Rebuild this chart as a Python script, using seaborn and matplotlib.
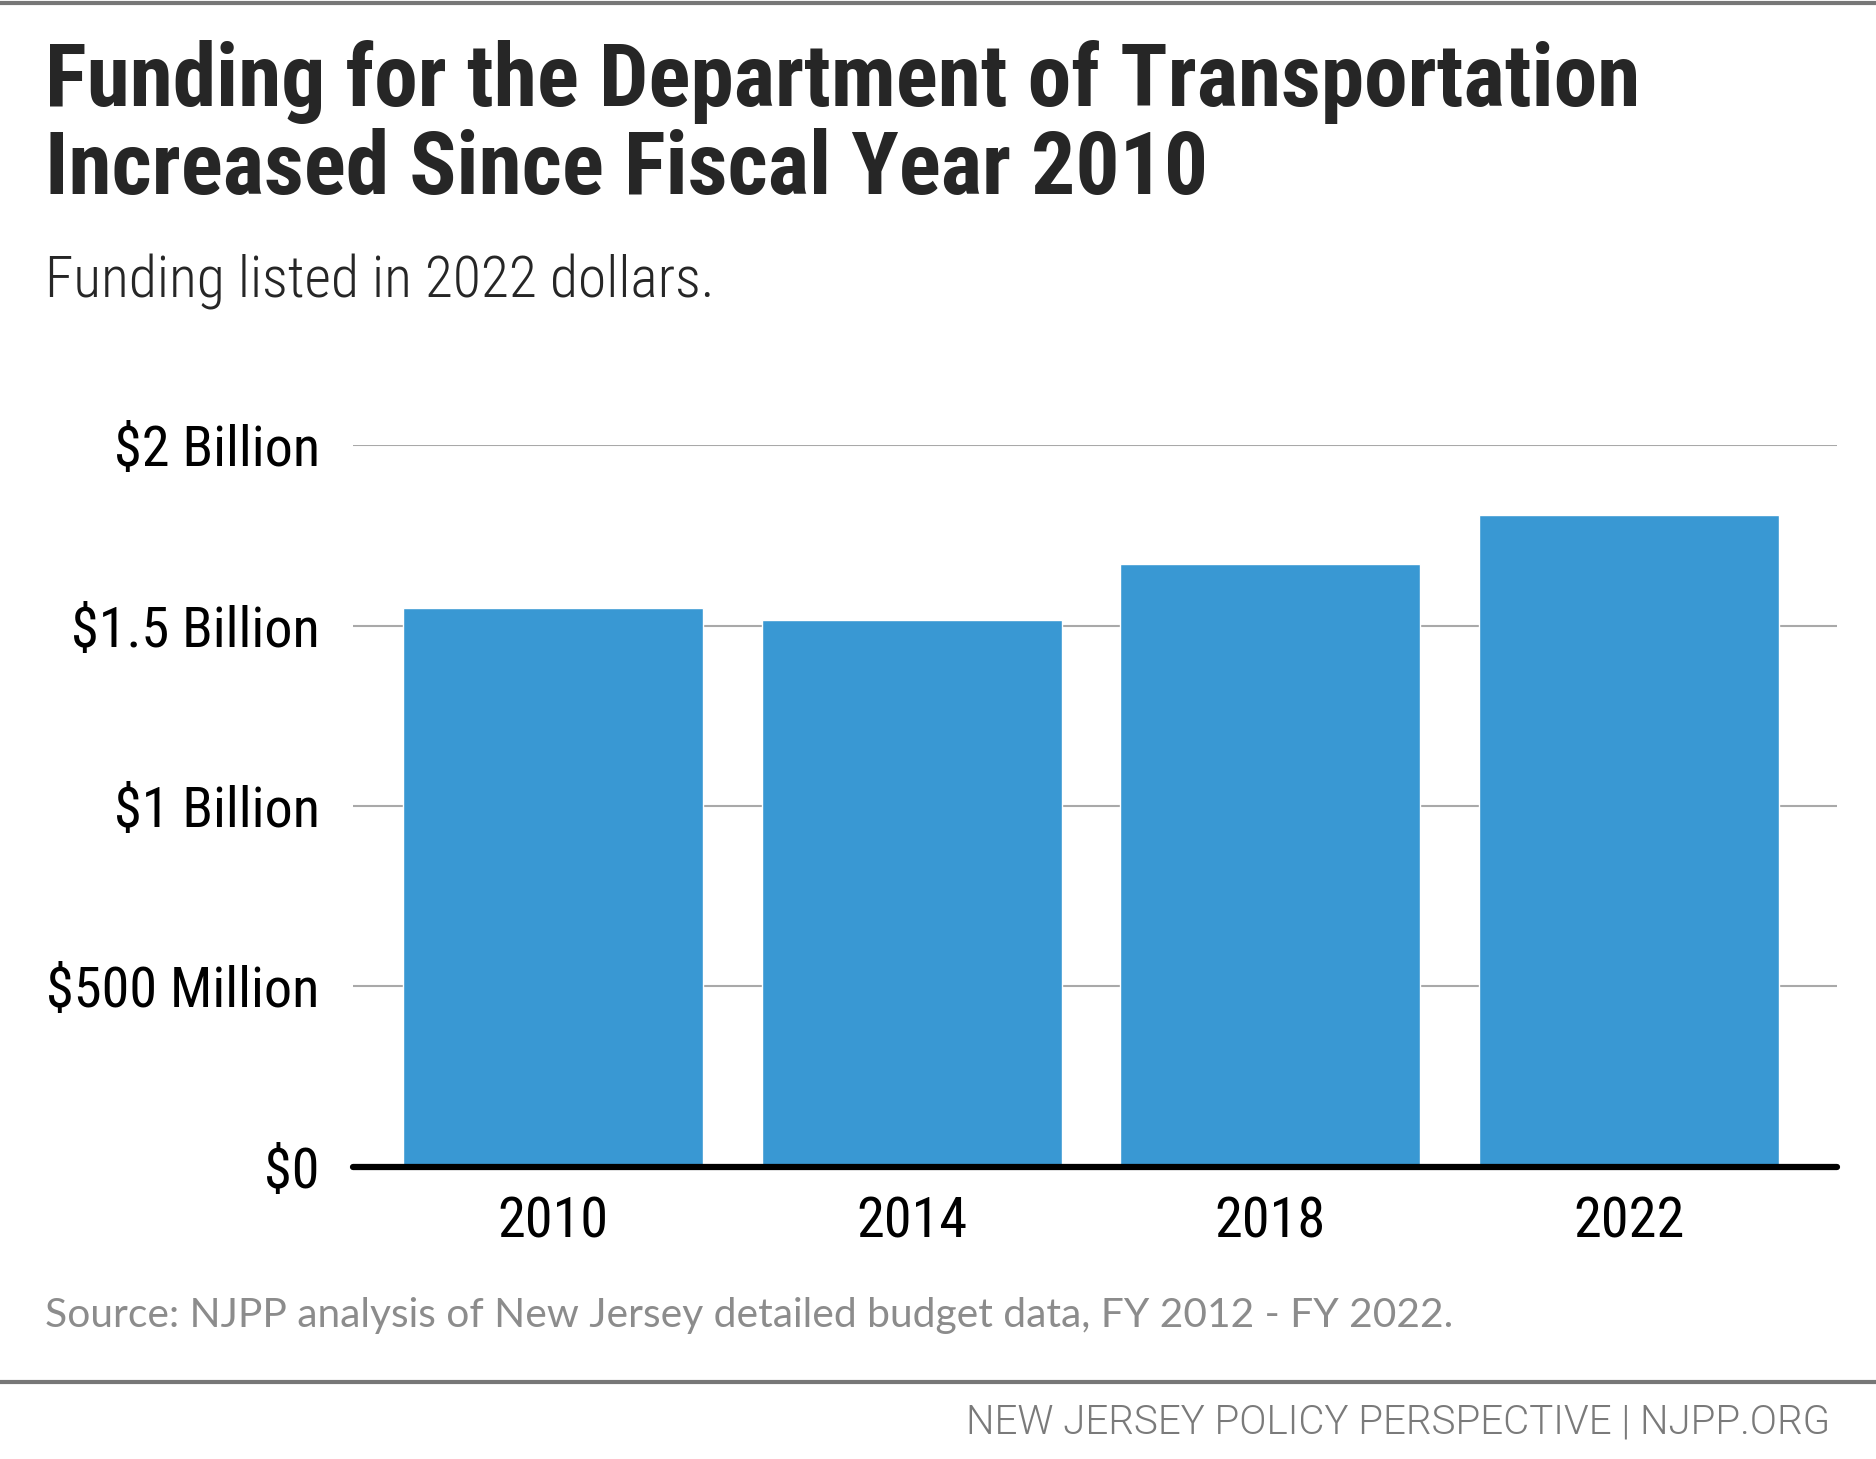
import os
import matplotlib
matplotlib.use("Agg")
import matplotlib.pyplot as plt
import seaborn as sns
from matplotlib import font_manager as fm
from matplotlib.lines import Line2D

# data (billions of 2022 dollars)
years = ["2010", "2014", "2018", "2022"]
funding = [1.548, 1.515, 1.670, 1.808]
y_ticks = [0, 0.5, 1, 1.5, 2]
y_tick_labels = ["$0", "$500 Million", "$1 Billion", "$1.5 Billion", "$2 Billion"]

title_lines = ["Funding for the Department of Transportation",
               "Increased Since Fiscal Year 2010"]
subtitle = "Funding listed in 2022 dollars."
source = "Source: NJPP analysis of New Jersey detailed budget data, FY 2012 - FY 2022."
footer = "NEW JERSEY POLICY PERSPECTIVE | NJPP.ORG"

sns.set_style("white")
plt.rcParams["font.family"] = ["DejaVu Sans"]

# look for a condensed face, the original uses a DIN-like narrow font
font_files = fm.findSystemFonts()


def pick_font(*names):
    for name in names:
        for f in font_files:
            if os.path.basename(f).lower() == name.lower():
                return fm.FontProperties(fname=f)
    return fm.FontProperties(family="DejaVu Sans")


f_bold = pick_font("RobotoCondensed-Bold.ttf", "NotoSans-CondensedBold.ttf")
f_reg = pick_font("RobotoCondensed-Regular.ttf", "NotoSans-Condensed.ttf")
f_light = pick_font("RobotoCondensed-Light.ttf", "RobotoCondensed-Regular.ttf",
                    "NotoSans-Condensed.ttf")
f_wide_light = pick_font("Roboto-Light.ttf", "Roboto-Regular.ttf")


def sized(fp, size):
    fp = fp.copy()
    fp.set_size(size)
    return fp


fig = plt.figure(figsize=(18.76, 14.59), dpi=100)
ax = fig.add_axes([0.1882, 0.2004, 0.7908, 0.4944])

sns.barplot(x=years, y=funding, color="#3998d3", saturation=1,
            width=0.836, ax=ax, zorder=2)

ax.set_xlim(-0.557, 3.578)
ax.set_ylim(0, 2)
ax.set_yticks(y_ticks)
ax.set_yticklabels(y_tick_labels)
ax.set_xlabel("")
ax.set_ylabel("")
ax.yaxis.grid(True, color="#a9a9a9", linewidth=1.5, zorder=0)
ax.set_axisbelow(True)
ax.axhline(0, color="black", linewidth=4.5, zorder=3, clip_on=False)
sns.despine(ax=ax, left=True, bottom=True)
ax.tick_params(axis="y", length=0, pad=24, labelcolor="black")
ax.tick_params(axis="x", length=0, pad=21, labelcolor="black")
for lbl in ax.get_yticklabels() + ax.get_xticklabels():
    lbl.set_fontproperties(sized(f_reg, 40.5))

# header
for i, line in enumerate(title_lines):
    fig.text(0.024, 0.9273 - i * 0.0603, line, fontproperties=sized(f_bold, 63),
             color="#262626", va="baseline", ha="left")
fig.text(0.024, 0.7960, subtitle, fontproperties=sized(f_light, 41.5),
         color="#262626", va="baseline", ha="left")

# footer
fig.text(0.024, 0.0905, source, fontsize=29.3, color="#8c8c8c",
         va="baseline", ha="left", family=["Lato", "DejaVu Sans"])
fig.text(0.9755, 0.0178, footer, fontproperties=sized(f_wide_light, 29),
         color="#7a7a7a", va="baseline", ha="right")

# rules
for y in (0.998, 0.0528):
    fig.add_artist(Line2D([0, 1], [y, y], transform=fig.transFigure,
                          color="#777777", linewidth=3))

fig.savefig("out.png", dpi=100, facecolor="white")
